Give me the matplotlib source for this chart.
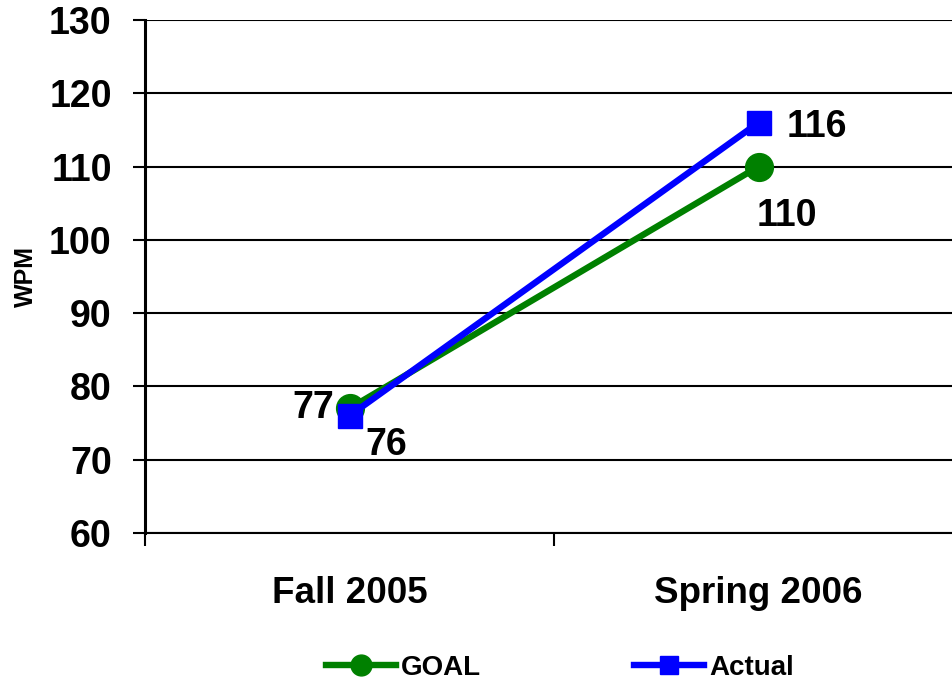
import matplotlib
matplotlib.use("Agg")
import matplotlib.pyplot as plt

# data
categories = ["Fall 2005", "Spring 2006"]
goal = [77, 110]
actual = [76, 116]

plt.rcParams['font.family'] = ['Liberation Sans', 'DejaVu Sans']
plt.rcParams['font.weight'] = 'bold'

fig = plt.figure(figsize=(9.52, 6.83), dpi=100)
ax = fig.add_axes([145 / 952, 1 - 533 / 683, (963 - 145) / 952, (533 - 20) / 683])

x = list(range(len(categories)))
ax.plot(x, goal, color='#008000', lw=4.6, marker='o', ms=20, label='GOAL', zorder=3)
ax.plot(x, actual, color='#0000FF', lw=4.6, marker='s', ms=17, label='Actual', zorder=4)

ax.set_xlim(-0.5, 1.5)
ax.set_ylim(60, 130)
ax.set_yticks(range(60, 131, 10))
ax.yaxis.grid(True, color='black', lw=1.5)
ax.set_axisbelow(True)

ax.set_xticks(x)
ax.set_xticklabels(categories, fontsize=26.5, fontweight='bold')
ax.set_xticks([-0.5, 0.5, 1.5], minor=True)
ax.tick_params(axis='x', which='major', length=0, pad=31)
ax.tick_params(axis='x', which='minor', length=9, width=1.5, direction='out')
ax.tick_params(axis='y', length=9, width=1.5, direction='out', labelsize=27, pad=15)
for lab in ax.get_yticklabels():
    lab.set_fontweight('bold')

ax.set_ylabel('WPM', fontsize=18, fontweight='bold', labelpad=8)

for s in ['top', 'right']:
    ax.spines[s].set_visible(False)
ax.spines['left'].set_linewidth(2.2)
ax.spines['bottom'].set_linewidth(1.5)

# data labels
def lbl(xv, yv, dx, dy, ha='center'):
    ax.annotate(str(yv), (xv, yv), xytext=(dx, dy), textcoords='offset pixels',
                ha=ha, va='center', fontsize=27, fontweight='bold')

lbl(0, goal[0], -15, 0, ha='right')
lbl(0, actual[0], 37, -29)
lbl(1, actual[1], 58, -4)
lbl(1, goal[1], 28, -49)

fig.legend(loc='center', bbox_to_anchor=(560 / 952, 1 - 668 / 683), ncol=2,
           frameon=False, fontsize=20, handlelength=2.5, columnspacing=5.5,
           handletextpad=0.2, markerscale=0.75)

fig.savefig('out.png', dpi=100)
